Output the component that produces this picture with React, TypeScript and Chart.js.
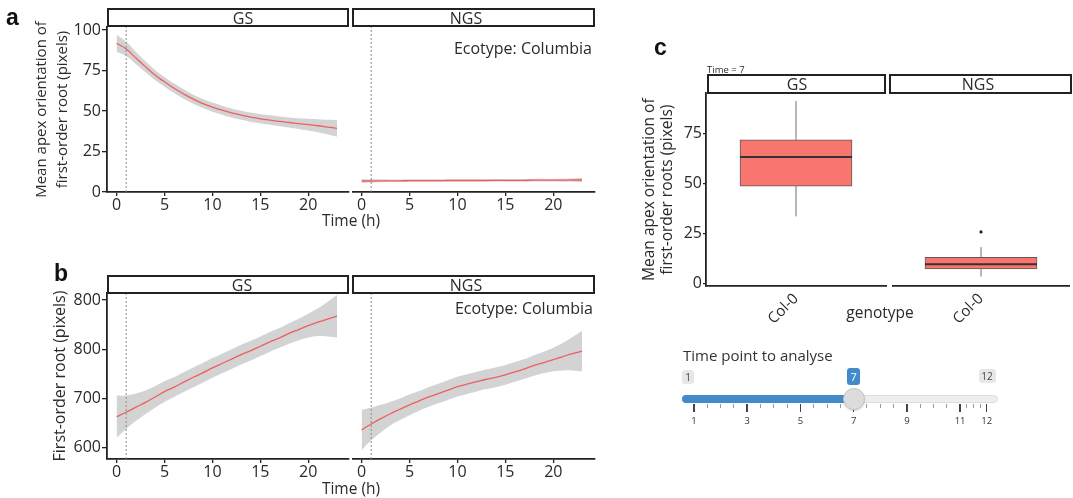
import React, { useEffect, useRef } from 'react';
import { Chart, registerables } from 'chart.js';

Chart.register(...registerables);

const FONT = "'Open Sans', 'DejaVu Sans', sans-serif";
Chart.defaults.font.family = FONT;
Chart.defaults.color = '#2a2a2a';

// ------------------------------------------------------------------ data
const HOURS = [0, 1, 2, 3, 4, 5, 6, 7, 8, 9, 10, 11, 12, 13, 14, 15, 16, 17, 18, 19, 20, 21, 22, 23];
const ONSET_HOUR = 1;
const FACETS = ['GS', 'NGS'];
const ECOTYPE = 'Ecotype: Columbia';
const X_TITLE = 'Time (h)';
const X_TICKS = [0, 5, 10, 15, 20];

// panel a
const A_Y_TITLE = ['Mean apex orientation of', 'first-order root (pixels)'];
const A_Y_TICKS = [0, 25, 50, 75, 100];
const A_Y_LABELS = ['0', '25', '50', '75', '100'];
const A_GS_MEAN = [91.8, 88.3, 82.8, 77.4, 72.2, 68.0, 64.0, 60.5, 57.3, 54.6, 52.4, 50.5, 48.8, 47.4, 46.2, 45.2, 44.4, 43.6, 42.9, 42.2, 41.6, 40.9, 40.1, 39.3];
const A_GS_SE = [5.2, 4.4, 3.8, 3.4, 3.1, 3.0, 2.9, 2.9, 2.8, 2.8, 2.8, 2.8, 2.8, 2.8, 2.8, 2.8, 2.9, 3.0, 3.1, 3.3, 3.6, 4.0, 4.5, 5.2];
const A_NGS_MEAN = [6.8, 6.8, 6.9, 6.9, 6.9, 7.0, 7.0, 7.0, 7.0, 7.1, 7.1, 7.1, 7.1, 7.1, 7.2, 7.2, 7.2, 7.2, 7.3, 7.3, 7.3, 7.3, 7.4, 7.4];
const A_NGS_SE = [1.2, 1.0, 0.9, 0.8, 0.8, 0.8, 0.8, 0.8, 0.8, 0.8, 0.8, 0.8, 0.8, 0.8, 0.8, 0.8, 0.8, 0.8, 0.8, 0.8, 0.8, 0.9, 1.0, 1.2];

// panel b
const B_Y_TITLE = 'First-order root (pixels)';
const B_Y_TICKS = [600, 700, 800, 900];
const B_Y_LABELS = ['600', '700', '800', '800'];
const B_GS_MEAN = [663, 672, 682, 692, 703, 714, 723, 733, 743, 752, 762, 771, 780, 789, 797, 806, 815, 823, 832, 840, 848, 855, 861, 867];
const B_GS_SE = [43, 34, 28, 24, 22, 21, 20, 20, 20, 20, 20, 20, 20, 20, 20, 20, 20, 20, 21, 22, 24, 28, 35, 43];
const B_NGS_MEAN = [636, 648, 659, 669, 678, 687, 695, 703, 710, 717, 724, 729, 734, 739, 743, 748, 754, 760, 767, 773, 779, 785, 791, 796];
const B_NGS_SE = [41, 33, 28, 24, 22, 21, 20, 20, 20, 20, 20, 20, 20, 20, 20, 20, 20, 20, 21, 22, 24, 28, 34, 41];

// panel c
const C_TIME_LABEL = 'Time = 7';
const C_Y_TITLE = ['Mean apex orientation of', 'first-order roots (pixels)'];
const C_Y_TICKS = [0, 25, 50, 75];
const C_X_TITLE = 'genotype';
const BOX_GENOTYPE = 'Col-0';
const BOX_MIN = [33.6, 3.4];
const BOX_Q1 = [48.8, 7.2];
const BOX_MEDIAN = [63.4, 9.6];
const BOX_Q3 = [72.0, 13.1];
const BOX_MAX = [91.4, 18.2];
const BOX_OUTLIERS = [[], [25.8]];

// slider
const SLIDER_TITLE = 'Time point to analyse';
const SLIDER_MIN = 1;
const SLIDER_MAX = 12;
const SLIDER_VALUE = 7;
const SLIDER_MAJOR = [1, 3, 5, 7, 9, 11, 12];

// ------------------------------------------------------------------ styles
const TEXT = '#2a2a2a';
const AXIS = '#222222';
const LINE_RED = '#EE5F5F';
const BAND = 'rgba(150,150,150,0.42)';
const BOX_FILL = '#F8766D';
const SLIDER_BLUE = '#428bca';

type Pad = { left: number; top: number; right: number; bottom: number };

function ChartCanvas(props: { left: number; top: number; width: number; height: number; make: () => any }) {
  const ref = useRef<HTMLCanvasElement>(null);
  useEffect(() => {
    const chart = new Chart(ref.current as HTMLCanvasElement, props.make());
    return () => chart.destroy();
  }, []);
  return (
    <canvas
      ref={ref}
      width={props.width}
      height={props.height}
      style={{ position: 'absolute', left: props.left, top: props.top, width: props.width, height: props.height }}
    />
  );
}

type LineOpts = {
  mean: number[];
  se: number[];
  yMin: number;
  yMax: number;
  yTicks: number[];
  yLabels: string[];
  xMin: number;
  xMax: number;
  showY: boolean;
  yTitle?: string | string[];
  yTitlePad?: number;
  yTitleLH?: number;
  yTitleSize?: number;
  padding: Pad;
  yWidth: number;
  xHeight: number;
};

function lineConfig(o: LineOpts): any {
  const pts = (arr: number[]) => arr.map((y, i) => ({ x: HOURS[i], y }));
  const lower = o.mean.map((m, i) => m - o.se[i]);
  const upper = o.mean.map((m, i) => m + o.se[i]);
  return {
    type: 'line',
    data: {
      datasets: [
        { data: pts(o.mean), borderColor: LINE_RED, borderWidth: 1.3, pointRadius: 0, tension: 0.4, fill: false },
        {
          data: [
            { x: ONSET_HOUR, y: o.yMin },
            { x: ONSET_HOUR, y: o.yMax },
          ],
          borderColor: '#8c8c8c',
          borderWidth: 1,
          borderDash: [2, 2],
          pointRadius: 0,
          fill: false,
        },
        { data: pts(lower), borderColor: 'rgba(0,0,0,0)', borderWidth: 0, pointRadius: 0, tension: 0.4, fill: false },
        { data: pts(upper), borderColor: 'rgba(0,0,0,0)', borderWidth: 0, pointRadius: 0, tension: 0.4, fill: '-1', backgroundColor: BAND },
      ],
    },
    options: {
      animation: false,
      responsive: false,
      events: [],
      layout: { padding: o.padding },
      plugins: { legend: { display: false }, tooltip: { enabled: false } },
      scales: {
        x: {
          type: 'linear',
          min: o.xMin,
          max: o.xMax,
          afterFit: (s: any) => {
            s.height = o.xHeight;
          },
          afterBuildTicks: (s: any) => {
            s.ticks = X_TICKS.map((v) => ({ value: v }));
          },
          grid: { display: true, drawOnChartArea: false, drawTicks: true, tickLength: 4, color: AXIS, lineWidth: 1.3 },
          border: { display: true, color: AXIS, width: 1.8 },
          ticks: { font: { size: 16 }, color: TEXT, padding: 0, maxRotation: 0, autoSkip: false },
        },
        y: {
          type: 'linear',
          display: o.showY,
          min: o.yMin,
          max: o.yMax,
          afterFit: (s: any) => {
            s.width = o.yWidth;
          },
          afterBuildTicks: (s: any) => {
            s.ticks = o.yTicks.map((v) => ({ value: v }));
          },
          grid: { display: true, drawOnChartArea: false, drawTicks: true, tickLength: 5, color: AXIS, lineWidth: 1.3 },
          border: { display: true, color: AXIS, width: 1.8 },
          ticks: {
            font: { size: 16 },
            color: TEXT,
            padding: 1,
            autoSkip: false,
            callback: (v: any) => {
              const i = o.yTicks.indexOf(Number(v));
              return i >= 0 ? o.yLabels[i] : '';
            },
          },
          title: {
            display: !!o.yTitle,
            text: o.yTitle,
            color: TEXT,
            font: { size: o.yTitleSize ?? 15, lineHeight: o.yTitleLH ?? 1.35 },
            padding: { top: o.yTitlePad ?? 0, bottom: 0 },
          },
        },
      },
    },
  };
}

function whiskerPlugin(g: number) {
  return {
    id: 'whiskers' + g,
    afterDatasetsDraw(chart: any) {
      const ctx = chart.ctx;
      const xs = chart.scales.x;
      const ys = chart.scales.y;
      const x = xs.getPixelForValue(0);
      const y = (v: number) => ys.getPixelForValue(v);
      ctx.save();
      ctx.strokeStyle = '#707070';
      ctx.lineWidth = 1;
      ctx.beginPath();
      ctx.moveTo(x, y(BOX_MAX[g]));
      ctx.lineTo(x, y(BOX_Q3[g]));
      ctx.moveTo(x, y(BOX_Q1[g]));
      ctx.lineTo(x, y(BOX_MIN[g]));
      ctx.stroke();
      ctx.strokeStyle = '#333333';
      ctx.lineWidth = 2;
      ctx.beginPath();
      ctx.moveTo(x - 56, y(BOX_MEDIAN[g]));
      ctx.lineTo(x + 56, y(BOX_MEDIAN[g]));
      ctx.stroke();
      ctx.restore();
    },
  };
}

function boxConfig(g: number, showY: boolean, padding: Pad, yWidth: number): any {
  const outliers = BOX_OUTLIERS[g].map((v) => ({ x: BOX_GENOTYPE, y: v }));
  return {
    type: 'bar',
    data: {
      labels: [BOX_GENOTYPE],
      datasets: [
        { type: 'line', data: outliers, showLine: false, pointRadius: 1.6, pointBackgroundColor: '#222', pointBorderWidth: 0 },
        {
          type: 'bar',
          data: [[BOX_Q1[g], BOX_Q3[g]]],
          backgroundColor: BOX_FILL,
          borderColor: '#5a5a5a',
          borderWidth: 1,
          borderSkipped: false,
          barThickness: 112,
        },
      ],
    },
    plugins: [whiskerPlugin(g)],
    options: {
      animation: false,
      responsive: false,
      events: [],
      layout: { padding },
      plugins: { legend: { display: false }, tooltip: { enabled: false } },
      scales: {
        x: {
          type: 'category',
          afterFit: (s: any) => {
            s.height = 64;
          },
          grid: { display: true, drawOnChartArea: false, drawTicks: true, tickLength: 4, color: 'rgba(0,0,0,0)' },
          border: { display: true, color: AXIS, width: 1.8 },
          ticks: { font: { size: 15 }, color: TEXT, padding: 0, minRotation: 45, maxRotation: 45 },
        },
        y: {
          type: 'linear',
          display: showY,
          min: -1.3,
          max: 95.3,
          afterFit: (s: any) => {
            s.width = yWidth;
          },
          afterBuildTicks: (s: any) => {
            s.ticks = C_Y_TICKS.map((v) => ({ value: v }));
          },
          grid: { display: true, drawOnChartArea: false, drawTicks: true, tickLength: 3, color: AXIS, lineWidth: 1.2 },
          border: { display: true, color: AXIS, width: 1.8 },
          ticks: { font: { size: 16 }, color: TEXT, padding: 1 },
          title: {
            display: true,
            text: C_Y_TITLE,
            color: TEXT,
            font: { size: 15.5, lineHeight: 1.13 },
            padding: { top: 11, bottom: 0 },
          },
        },
      },
    },
  };
}

function Strip(props: { left: number; top: number; width: number; height: number; label: string; center: number; size?: number }) {
  return (
    <div
      style={{
        position: 'absolute',
        left: props.left,
        top: props.top,
        width: props.width,
        height: props.height,
        border: '2px solid #222',
        boxSizing: 'border-box',
        background: '#fff',
      }}
    >
      <span
        style={{
          position: 'absolute',
          left: props.center - props.left,
          top: '50%',
          transform: 'translate(-50%,-52%)',
          fontSize: props.size ?? 16,
          lineHeight: 1,
          whiteSpace: 'nowrap',
        }}
      >
        {props.label}
      </span>
    </div>
  );
}

function Label(props: { x: number; y: number; text: string; size?: number; align?: 'center' | 'left' | 'right'; weight?: number; family?: string; color?: string }) {
  const align = props.align ?? 'center';
  const tx = align === 'center' ? '-50%' : align === 'right' ? '-100%' : '0';
  return (
    <div
      style={{
        position: 'absolute',
        left: props.x,
        top: props.y,
        transform: `translate(${tx},-50%)`,
        fontSize: props.size ?? 15,
        lineHeight: 1,
        whiteSpace: 'nowrap',
        fontWeight: props.weight ?? 400,
        fontFamily: props.family ?? FONT,
        color: props.color ?? TEXT,
      }}
    >
      {props.text}
    </div>
  );
}

function Slider() {
  const x0 = 694;
  const x1 = 986.7;
  const px = (v: number) => x0 + ((v - SLIDER_MIN) / (SLIDER_MAX - SLIDER_MIN)) * (x1 - x0);
  const minors: number[] = [];
  for (let i = 0; i < SLIDER_MAJOR.length - 1; i++) {
    const a = SLIDER_MAJOR[i];
    const b = SLIDER_MAJOR[i + 1];
    for (let k = 1; k < 4; k++) minors.push(a + ((b - a) * k) / 4);
  }
  const hx = px(SLIDER_VALUE);
  const tag = (text: string, cx: number, bg: string, color: string, w: number, h: number, top: number, size: number) => (
    <div
      style={{
        position: 'absolute',
        left: cx - w / 2,
        top,
        width: w,
        height: h,
        background: bg,
        color,
        borderRadius: 3,
        fontSize: size,
        lineHeight: h + 'px',
        textAlign: 'center',
      }}
    >
      {text}
    </div>
  );
  return (
    <>
      <Label x={683} y={355} text={SLIDER_TITLE} size={15} align="left" color="#333" />
      {tag(String(SLIDER_MIN), 688, '#e7e7e7', '#444', 12, 14, 370, 10)}
      {tag(String(SLIDER_MAX), 987, '#e7e7e7', '#444', 17, 14, 369, 10)}
      {tag(String(SLIDER_VALUE), hx, SLIDER_BLUE, '#fff', 13, 17, 368, 11)}
      <div
        style={{
          position: 'absolute',
          left: 682,
          top: 395,
          width: 316,
          height: 8,
          background: '#eeeeee',
          border: '1px solid #dedede',
          borderRadius: 4,
          boxSizing: 'border-box',
        }}
      />
      <div
        style={{ position: 'absolute', left: 682, top: 395, width: hx - 682, height: 8, background: SLIDER_BLUE, borderRadius: 4 }}
      />
      {SLIDER_MAJOR.map((v) => (
        <div key={'M' + v} style={{ position: 'absolute', left: px(v) - 0.75, top: 404, width: 1.5, height: 8, background: '#444' }} />
      ))}
      {minors.map((v, i) => (
        <div key={'m' + i} style={{ position: 'absolute', left: px(v) - 0.5, top: 404, width: 1, height: 4, background: '#999' }} />
      ))}
      {SLIDER_MAJOR.map((v) => (
        <Label key={'L' + v} x={px(v)} y={421} text={String(v)} size={9.5} color="#333" />
      ))}
      <div
        style={{
          position: 'absolute',
          left: hx - 11,
          top: 388,
          width: 22,
          height: 22,
          borderRadius: '50%',
          background: '#dcdcdc',
          border: '1px solid #c4c4c4',
          boxSizing: 'border-box',
          boxShadow: '0 1px 2px rgba(0,0,0,0.15)',
        }}
      />
    </>
  );
}

export default function App() {
  return (
    <div
      style={{
        position: 'absolute',
        left: 0,
        top: 0,
        width: 1073,
        height: 498,
        background: '#fff',
        overflow: 'hidden',
        fontFamily: FONT,
        color: TEXT,
      }}
    >
      {/* panel a */}
      <ChartCanvas
        left={0}
        top={0}
        width={350}
        height={230}
        make={() =>
          lineConfig({
            mean: A_GS_MEAN,
            se: A_GS_SE,
            yMin: 0,
            yMax: 101.85,
            yTicks: A_Y_TICKS,
            yLabels: A_Y_LABELS,
            xMin: -1.0,
            xMax: 24.25,
            showY: true,
            yTitle: A_Y_TITLE,
            yTitlePad: 32,
            yTitleLH: 1.35,
            yTitleSize: 15,
            padding: { left: 0, top: 27, right: 1, bottom: 0 },
            yWidth: 107,
            xHeight: 38,
          })
        }
      />
      <ChartCanvas
        left={352}
        top={0}
        width={248}
        height={230}
        make={() =>
          lineConfig({
            mean: A_NGS_MEAN,
            se: A_NGS_SE,
            yMin: 0,
            yMax: 101.85,
            yTicks: A_Y_TICKS,
            yLabels: A_Y_LABELS,
            xMin: -1.0,
            xMax: 24.35,
            showY: false,
            padding: { left: 0, top: 27, right: 5, bottom: 0 },
            yWidth: 0,
            xHeight: 38,
          })
        }
      />
      <Strip left={107} top={8} width={242} height={19} label={FACETS[0]} center={241} />
      <Strip left={352} top={8} width={243} height={19} label={FACETS[1]} center={464} />
      <Label x={592} y={48} text={ECOTYPE} size={16} align="right" />
      <Label x={351} y={221} text={X_TITLE} size={15.5} />
      <Label x={6} y={17} text="a" size={23} weight={700} align="left" family="'Liberation Sans', Arial, sans-serif" color="#111" />

      {/* panel b */}
      <ChartCanvas
        left={0}
        top={250}
        width={350}
        height={248}
        make={() =>
          lineConfig({
            mean: B_GS_MEAN,
            se: B_GS_SE,
            yMin: 577,
            yMax: 914.2,
            yTicks: B_Y_TICKS,
            yLabels: B_Y_LABELS,
            xMin: -1.0,
            xMax: 24.25,
            showY: true,
            yTitle: B_Y_TITLE,
            yTitlePad: 50,
            yTitleSize: 16,
            padding: { left: 0, top: 43, right: 1, bottom: 0 },
            yWidth: 107,
            xHeight: 39,
          })
        }
      />
      <ChartCanvas
        left={352}
        top={250}
        width={248}
        height={248}
        make={() =>
          lineConfig({
            mean: B_NGS_MEAN,
            se: B_NGS_SE,
            yMin: 577,
            yMax: 914.2,
            yTicks: B_Y_TICKS,
            yLabels: B_Y_LABELS,
            xMin: -1.0,
            xMax: 24.35,
            showY: false,
            padding: { left: 0, top: 43, right: 5, bottom: 0 },
            yWidth: 0,
            xHeight: 39,
          })
        }
      />
      <Strip left={107} top={275} width={242} height={19} label={FACETS[0]} center={240} />
      <Strip left={352} top={275} width={243} height={19} label={FACETS[1]} center={464} />
      <Label x={593} y={308} text={ECOTYPE} size={16} align="right" />
      <Label x={351} y={489} text={X_TITLE} size={15.5} />
      <Label x={54} y={273} text="b" size={23} weight={700} align="left" family="'Liberation Sans', Arial, sans-serif" color="#111" />

      {/* panel c */}
      <ChartCanvas
        left={630}
        top={60}
        width={258}
        height={290}
        make={() => boxConfig(0, true, { left: 0, top: 33.3, right: 2, bottom: 0 }, 76)}
      />
      <ChartCanvas
        left={889}
        top={60}
        width={184}
        height={290}
        make={() => boxConfig(1, false, { left: 0, top: 33.3, right: 1, bottom: 0 }, 0)}
      />
      <Strip left={707} top={74} width={179} height={20} label={FACETS[0]} center={795} />
      <Strip left={889} top={74} width={183} height={20} label={FACETS[1]} center={976} />
      <Label x={707} y={70} text={C_TIME_LABEL} size={9.5} align="left" />
      <Label x={880} y={313} text={C_X_TITLE} size={15.5} />
      <Label x={654} y={47} text="c" size={23} weight={700} align="left" family="'Liberation Sans', Arial, sans-serif" color="#111" />

      <Slider />
    </div>
  );
}
